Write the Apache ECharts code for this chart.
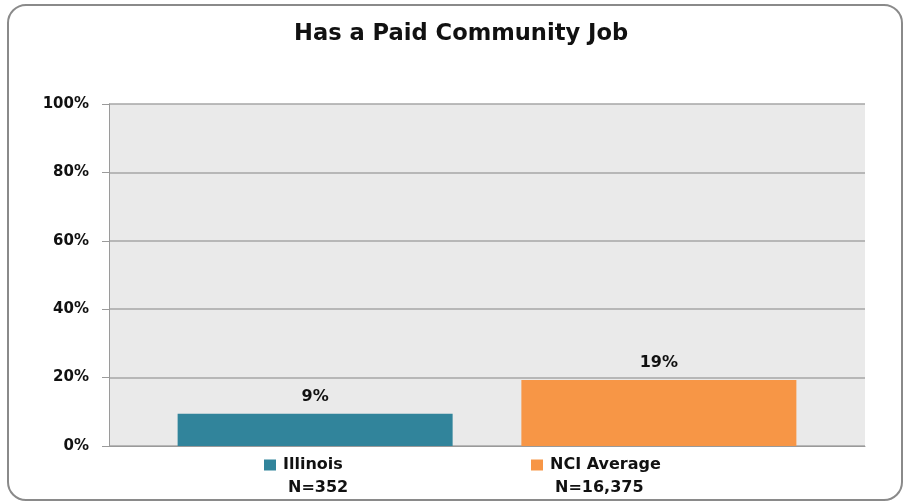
<!DOCTYPE html>
<html>
<head>
<meta charset="utf-8">
<script src="https://cdn.jsdelivr.net/npm/echarts@6/dist/echarts.min.js"></script>
<style>html,body{margin:0;padding:0;background:#fff}#c{width:903px;height:502px}</style>
</head>
<body>
<div id="c"></div>
<script>
var titleText = 'Has a Paid Community Job';
var categories = ['Has a Paid Community Job'];
var seriesNames = ['Illinois', 'NCI Average'];
var sampleSizes = ['N=352', 'N=16,375'];
var illinoisValues = [9.4];
var nciValues = [19.3];
var yTicks = [0, 20, 40, 60, 80, 100];
var colors = ['#31849B', '#F79646'];

var FONT = 'DejaVu Sans';
var chart = echarts.init(document.getElementById('c'), null, {renderer: 'canvas'});

function legendFor(i, left) {
  return {
    data: [seriesNames[i]],
    left: left,
    top: 457,
    padding: 0,
    icon: 'none',
    itemWidth: 0,
    itemHeight: 0,
    selectedMode: false,
    formatter: function (name) {
      return '{sq|}{a|' + name + '}\n{b|' + sampleSizes[i] + '}';
    },
    textStyle: {
      rich: {
        sq: {width: 12, height: 11, backgroundColor: colors[i], verticalAlign: 'middle', lineHeight: 23},
        a: {fontFamily: FONT, fontWeight: 'bold', fontSize: 16, color: '#111', lineHeight: 23, padding: [0, 0, 0, 7], verticalAlign: 'middle'},
        b: {fontFamily: FONT, fontWeight: 'bold', fontSize: 16, color: '#111', lineHeight: 23, padding: [0, 0, 0, 24]}
      }
    }
  };
}

var option = {
  animation: false,
  backgroundColor: '#ffffff',
  title: {
    text: titleText,
    left: 294,
    top: 18,
    padding: [5, 0, 5, 0],
    textStyle: {fontFamily: FONT, fontWeight: 'bold', fontSize: 22.6, color: '#111'}
  },
  graphic: [{
    type: 'rect',
    shape: {x: 8, y: 5, width: 894, height: 495, r: 18},
    style: {fill: 'none', stroke: '#8a8a8a', lineWidth: 2},
    silent: true,
    z: -1
  }],
  legend: [legendFor(0, 259), legendFor(1, 526)],
  grid: {left: 109, right: 38, top: 104, bottom: 56, show: true, backgroundColor: '#EAEAEA', borderWidth: 0},
  xAxis: {
    type: 'category',
    data: categories,
    axisLine: {show: true, lineStyle: {color: '#9a9a9a', width: 1}},
    axisTick: {show: false},
    axisLabel: {show: false}
  },
  yAxis: {
    type: 'value',
    min: 0,
    max: 100,
    interval: 20,
    axisLine: {show: true, lineStyle: {color: '#9a9a9a', width: 1}},
    axisTick: {show: true, inside: false, length: 7, lineStyle: {color: '#9a9a9a'}},
    splitLine: {show: true, lineStyle: {color: '#a6a6a6', width: 1.5}},
    axisLabel: {
      margin: 20,
      fontFamily: FONT,
      fontWeight: 'bold',
      fontSize: 15,
      color: '#111',
      formatter: function (v) { return yTicks.indexOf(v) >= 0 ? v + '%' : ''; }
    }
  },
  series: [
    {
      name: seriesNames[0],
      type: 'bar',
      data: illinoisValues,
      barWidth: 275,
      barGap: '25%',
      itemStyle: {color: colors[0]},
      label: {show: true, position: 'top', distance: 9, fontFamily: FONT, fontWeight: 'bold', fontSize: 16, color: '#111',
        formatter: function (p) { return Math.round(p.value) + '%'; }}
    },
    {
      name: seriesNames[1],
      type: 'bar',
      data: nciValues,
      barWidth: 275,
      barGap: '25%',
      itemStyle: {color: colors[1]},
      label: {show: true, position: 'top', distance: 9, fontFamily: FONT, fontWeight: 'bold', fontSize: 16, color: '#111',
        formatter: function (p) { return Math.round(p.value) + '%'; }}
    }
  ]
};
chart.setOption(option);
</script>
</body>
</html>
